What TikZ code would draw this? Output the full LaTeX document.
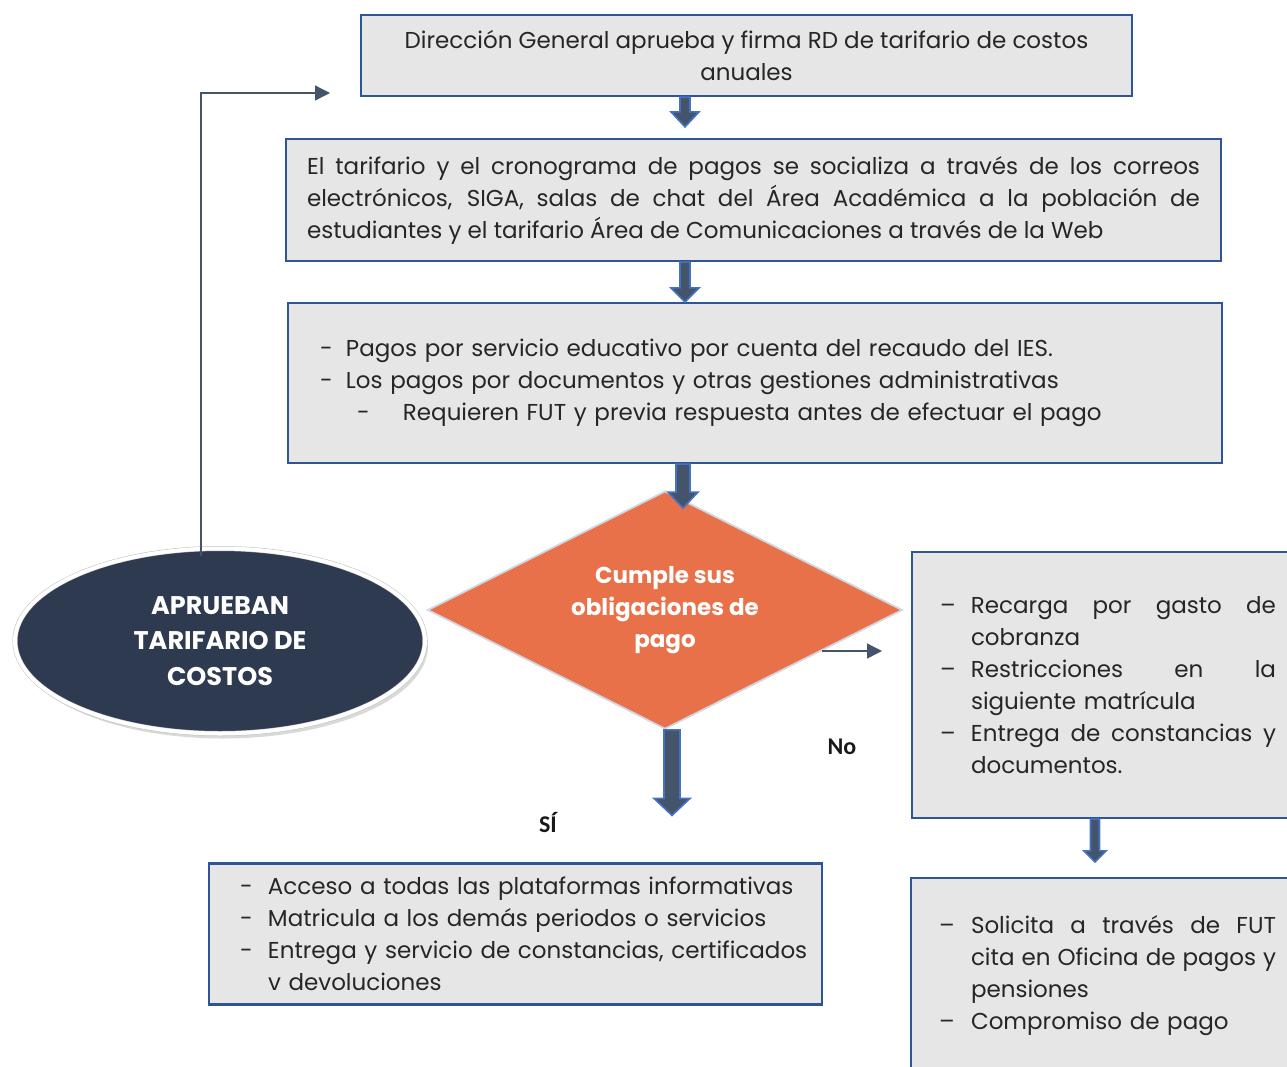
\documentclass[tikz,border=0pt]{standalone}
\usepackage{fontspec}
\setmainfont{Poppins}
\newfontfamily\labfont{Carlito}
\usetikzlibrary{shapes.geometric,arrows.meta,calc,shadows}
\definecolor{boxfill}{HTML}{E7E6E6}
\definecolor{boxline}{HTML}{2F5597}
\definecolor{txt}{HTML}{262626}
\definecolor{slate}{HTML}{44546A}
\definecolor{arrline}{HTML}{4472C4}
\definecolor{orangeD}{HTML}{E9714A}
\definecolor{diamline}{HTML}{D0D8E6}
\definecolor{navy}{HTML}{2E3A4F}
\tikzset{
  procbox/.style={draw=boxline, fill=boxfill, line width=2.2pt, rectangle, inner ysep=0pt, text=txt,
     font=\fontsize{23}{32}\selectfont},
  barrowst/.style={fill=slate, draw=arrline, line width=1.6pt, line join=miter},
  thinarrow/.style={draw=slate, line width=1.3pt, -{Triangle[length=15pt,width=15pt]}},
  decision/.style={diamond, aspect=2, fill=orangeD, draw=diamline, line width=1.8pt, inner sep=0pt,
     minimum width=475pt, minimum height=238pt, text=white, align=center,
     font=\fontsize{23}{32}\selectfont\bfseries},
  startend/.style={ellipse, fill=navy, draw=black!25, double=white, double distance=4pt, line width=0.5pt,
     minimum width=410pt, minimum height=185pt, text=white, align=center,
     font=\fontsize{25.5}{35.5}\selectfont\bfseries,
     drop shadow={opacity=0.3, shadow xshift=3pt, shadow yshift=-5pt}},
  lab/.style={font=\labfont\fontsize{24}{28}\selectfont\bfseries, text=black!90}
}
\newcommand\barrow[5]{%
  \filldraw[barrowst] let \p1=(#1), \p2=(#2) in
   (\x1-#3pt,\y1) -- (\x1-#3pt,\y2+#5pt) -- (\x1-#4pt,\y2+#5pt) -- (\x1,\y2)
   -- (\x1+#4pt,\y2+#5pt) -- (\x1+#3pt,\y2+#5pt) -- (\x1+#3pt,\y1) -- cycle;}
\newcommand\jl[2]{\makebox[#1pt][s]{\spaceskip=\fontdimen2\font plus 1fil\relax #2}}
\begin{document}
\begin{tikzpicture}[x=1pt,y=-1pt]
\useasboundingbox (0,0) rectangle (1287,1066);
% top box
\node[procbox, minimum width=771pt, minimum height=81pt, align=center] (top) at (746.5,55.5)
  {Dirección General aprueba y firma RD de tarifario de costos\\anuales};
% box 2
\node[procbox, minimum width=935pt, minimum height=122pt, inner xsep=21pt, align=left] (soc) at (753.5,200)
  {\jl{893}{El tarifario y el cronograma de pagos se socializa a través de los correos}\\
   \jl{893}{electrónicos, SIGA, salas de chat del Área Académica a la población de}\\
   estudiantes y el tarifario Área de Comunicaciones a través de la Web};
% box 3
\node[procbox, minimum width=934pt, minimum height=160pt, text width=870pt, inner xsep=32pt, align=left] (pag) at (755,383)
  {\makebox[26pt][l]{-}Pagos por servicio educativo por cuenta del recaudo del IES.\\
   \makebox[26pt][l]{-}Los pagos por documentos y otras gestiones administrativas\\
   \hspace*{37pt}\makebox[46pt][l]{-}Requieren FUT y previa respuesta antes de efectuar el pago};
% decision
\node[decision] (dec) at (665,610) {Cumple sus\\obligaciones de\\pago};
% ellipse
\node[startend] (ell) at (220,641) {APRUEBAN\\TARIFARIO DE\\COSTOS};
% right box 1
\node[procbox, minimum width=392pt, minimum height=266pt, text width=336pt, inner xsep=28pt, align=left] (cons) at (1108,685)
  {\makebox[31pt][l]{–}\jl{305}{Recarga por gasto de}\\
   \hspace*{31pt}cobranza\\
   \makebox[31pt][l]{–}\jl{305}{Restricciones en la}\\
   \hspace*{31pt}siguiente matrícula\\
   \makebox[31pt][l]{–}\jl{305}{Entrega de constancias y}\\
   \hspace*{31pt}documentos.};
% right box 2
\node[procbox, minimum width=394pt, minimum height=196pt, text width=338pt, inner xsep=28pt, align=left] (sol) at (1108,976)
  {\makebox[32pt][l]{–}\jl{305}{Solicita a través de FUT}\\
   \hspace*{32pt}\jl{305}{cita en Oficina de pagos y}\\
   \hspace*{32pt}pensiones\\
   \makebox[32pt][l]{–}Compromiso de pago};
% bottom box
\node[procbox, minimum width=613pt, minimum height=141pt, text width=551pt, inner xsep=31pt, align=left] (acc) at (515.5,934)
  {\mbox{\makebox[28pt][l]{-}Acceso a todas las plataformas informativas}\\
   \mbox{\makebox[28pt][l]{-}Matricula a los demás periodos o servicios}\\
   \mbox{\makebox[28pt][l]{-}Entrega y servicio de constancias, certificados}\\
   \mbox{\hspace*{28pt}v devoluciones}};
% block arrows
\barrow{685,0 |- top.south}{$(685,0 |- soc.north)+(0,-11)$}{5}{14}{15}
\barrow{685,0 |- soc.south}{685,0 |- pag.north}{5}{14}{14}
\barrow{683,0 |- pag.south}{$(683,0 |- dec.north)+(0,18)$}{7}{15}{16}
\barrow{672,0 |- dec.south}{$(672,0 |- acc.north)+(0,-47)$}{8}{18}{17}
\barrow{1095,0 |- cons.south}{$(1095,0 |- sol.north)+(0,-15)$}{4.5}{11}{11}
% thin arrows
\coordinate (fb) at (330,93);
\draw[thinarrow] (201,0 |- ell.north) ++(0,8) |- (fb);
\coordinate (na) at (882,651);
\draw[thinarrow] (822,0 |- na) -- (na);
% labels
\node[lab] (no) at (842,747) {No};
\node[lab] (si) at (548,822) {SÍ};
\end{tikzpicture}
\end{document}
